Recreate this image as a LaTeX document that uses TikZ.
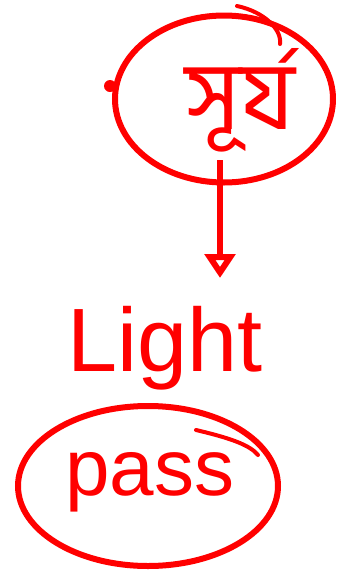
\documentclass[tikz,border=0pt]{standalone}
\usepackage{fontspec}
\setmainfont{Liberation Sans}
\newfontfamily\bengfont[Script=Bengali]{Hind Siliguri}
\usetikzlibrary{arrows.meta,shapes.geometric}

\begin{document}
\begin{tikzpicture}[x=1pt,y=-1pt,
  ring/.style={draw=red,ellipse,line width=6pt,inner sep=0pt},
  word/.style={text=red,inner sep=0pt},
  edge/.style={draw=red,line width=6pt,-{Triangle[open,length=24pt,width=30pt]}},
  stroke/.style={draw=red,line width=4pt,line cap=round}
]
  \useasboundingbox (0,0) rectangle (344,571);
  % top bubble
  \node[ring,minimum width=218pt,minimum height=167pt] (sunring) at (224,99) {};
  \node[word,font=\bengfont\fontsize{96}{96}\selectfont] (sun) at (240,100) {সূর্য};
  \draw[stroke] (237,6) .. controls (265,12) and (282,30) .. (280,44);
  \fill[red] (110,86) circle (6);

  % arrow down
  \coordinate (from) at (220,160);
  \coordinate (to) at (220,278);
  \draw[edge] (from) -- (to);

  \node[word,font=\fontsize{90}{90}\selectfont] (light) at (165,348) {Light};

  % bottom bubble
  \node[ring,minimum width=260pt,minimum height=160pt] (passring) at (148,486) {};
  \node[word,font=\fontsize{80}{80}\selectfont] (pass) at (150,482) {pass};
  \draw[stroke] (196,430) .. controls (230,438) and (250,445) .. (258,455);
\end{tikzpicture}
\end{document}
